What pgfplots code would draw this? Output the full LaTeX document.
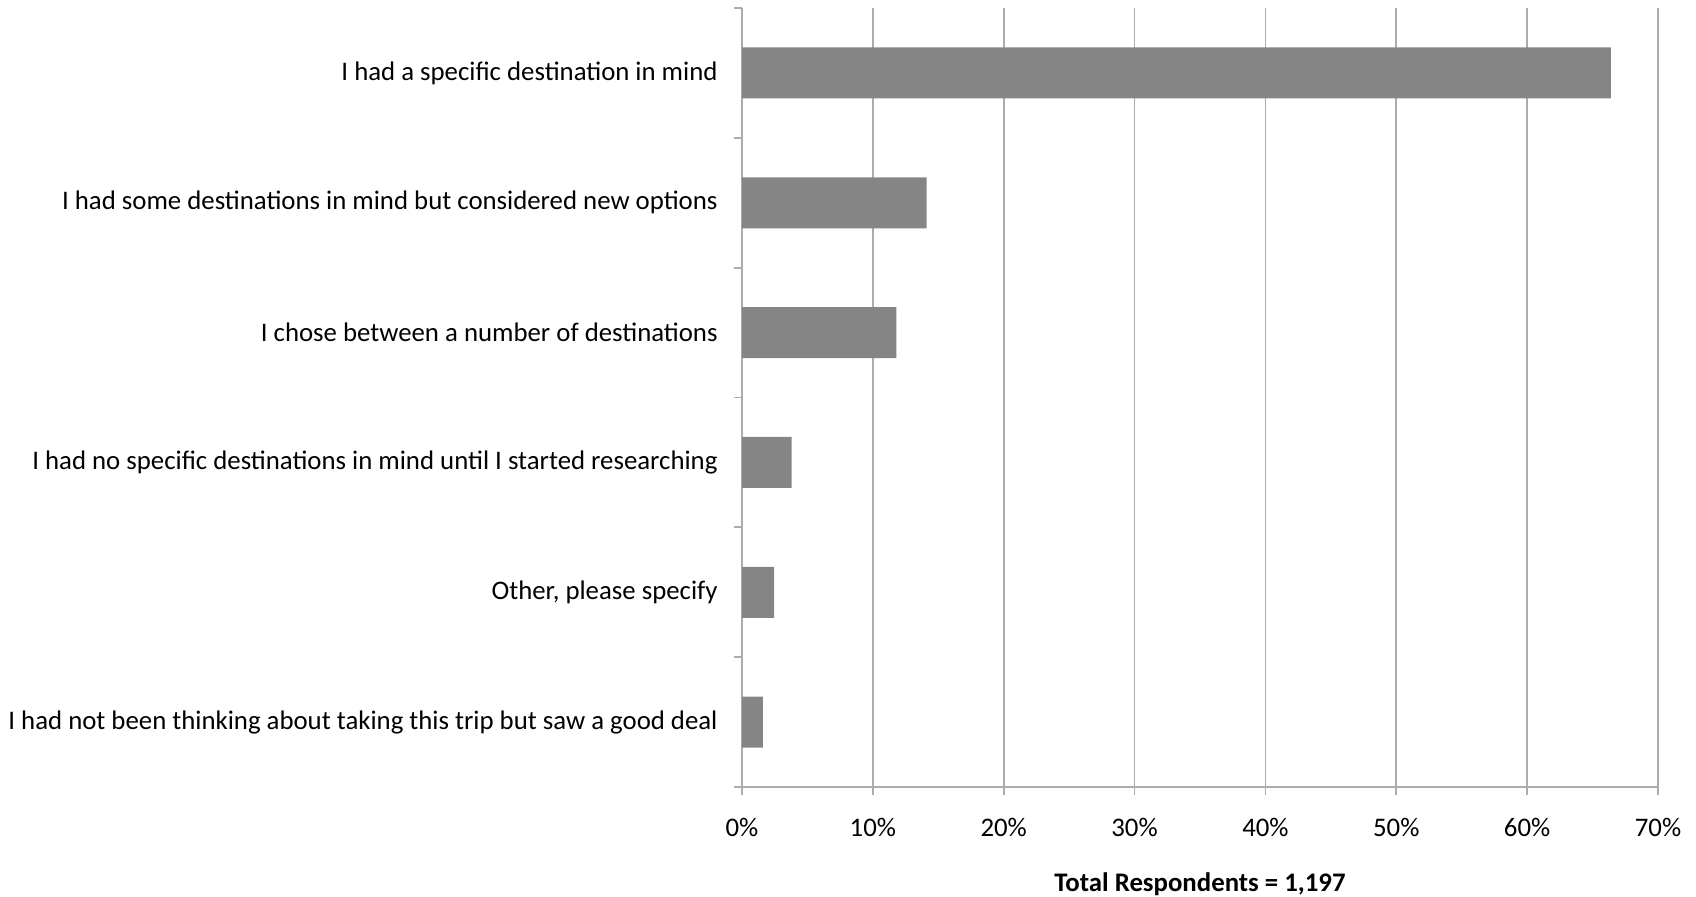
\documentclass[border=0pt]{standalone}
\usepackage{pgfplots}
\pgfplotsset{compat=1.18}
\usepackage{fontspec}
\setmainfont{Carlito}
\definecolor{barcol}{RGB}{133,133,133}
\definecolor{gridcol}{RGB}{172,172,172}
\begin{document}
\begin{tikzpicture}
\begin{axis}[
  scale only axis,
  width=458pt, height=389.5pt,
  xbar, bar width=25.5pt,
  xmin=0, xmax=70,
  ymin=-0.5, ymax=5.5, y dir=reverse,
  axis x line*=bottom, axis y line*=left,
  axis line style={gridcol, line width=0.9pt},
  xtick={0,10,...,70},
  xticklabel={\pgfmathprintnumber{\tick}\%},
  xmajorgrids, major grid style={gridcol, line width=0.9pt},
  ytick={-0.5,0.5,...,5.5},
  yticklabels={},
  extra y ticks={0,...,5},
  extra y tick labels={
    I had a specific destination in mind,
    I had some destinations in mind but considered new options,
    I chose between a number of destinations,
    I had no specific destinations in mind until I started researching,
    {Other, please specify},
    I had not been thinking about taking this trip but saw a good deal},
  extra y tick style={tick style={draw=none}, yticklabel style={inner sep=0pt, xshift=-8pt}},
  tick align=outside,
  major tick length=4pt,
  tick style={gridcol, line width=0.9pt},
  tick label style={font=\fontsize{13.4}{16}\selectfont, black},
  xticklabel style={yshift=-8pt},
  /pgf/number format/assume math mode=true,
  xlabel={\textbf{Total Respondents = 1,197}},
  xlabel style={font=\fontsize{13.4}{16}\selectfont, yshift=-11pt},
  clip=false,
]
\addplot[fill=barcol, draw=none] coordinates {
  (66.4,0) (14.1,1) (11.8,2) (3.8,3) (2.45,4) (1.6,5)
};
\end{axis}
\pgfresetboundingbox
\path (-371pt,-54.5pt) rectangle (477pt,393.5pt);
\end{tikzpicture}
\end{document}
